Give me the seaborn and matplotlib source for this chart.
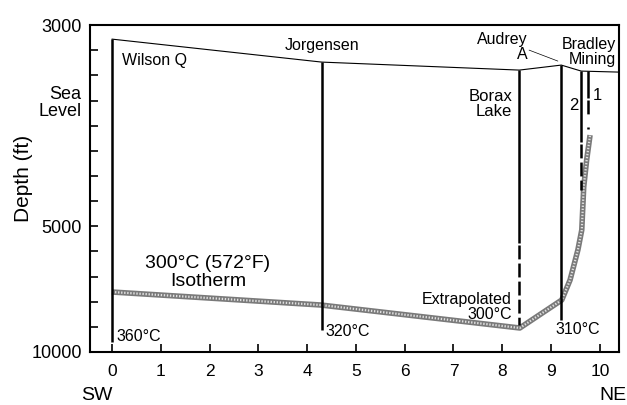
import matplotlib
matplotlib.use("Agg")
import matplotlib.pyplot as plt
import seaborn as sns
import pandas as pd

sns.set_style("ticks")
plt.rcParams['font.family'] = ['Liberation Sans', 'DejaVu Sans']
plt.rcParams['lines.scale_dashes'] = False
plt.rcParams['text.color'] = 'black'
plt.rcParams['axes.labelcolor'] = 'black'
plt.rcParams['xtick.color'] = 'black'
plt.rcParams['ytick.color'] = 'black'

# ---- data ----
x_ticks = list(range(0, 11))
y_tick_vals = list(range(3000, -10001, -1000))
y_tick_labels = {3000: "3000", 0: "Sea\nLevel", -5000: "5000", -10000: "10000"}

surface_x = [0.0, 4.3, 8.35, 9.21, 9.62, 10.39]
surface_y = [2443, 1529, 1211, 1410, 1171, 1131]

iso_x = [0.0, 4.28, 8.36, 9.22, 9.39, 9.55, 9.63, 9.67, 9.73, 9.80]
iso_y = [-7616, -8133, -9047, -7934, -7139, -5946, -5151, -3441, -2368, -1374]

well_names = ["Wilson Q", "Jorgensen", "Borax Lake", "Audrey A", "Bradley 2", "Bradley 1"]
well_x = [0.0, 4.3, 8.35, 9.21, 9.62, 9.75]
well_top = [2443, 1529, 1211, 1410, 1171, 1160]
well_solid_bottom = [-9604, -9127, -5668, -8730, -1652, 98]
well_dash_bottom = [None, None, -8928, None, -3560, -578]

# ---- figure ----
fig = plt.figure(figsize=(6.27, 4.05), dpi=100)
ax = fig.add_axes([0.1435, 0.131, 0.8435, 0.807])

surf = pd.DataFrame({"x": surface_x, "y": surface_y})
sns.lineplot(data=surf, x="x", y="y", sort=False, color="black", lw=0.8, ax=ax)

iso = pd.DataFrame({"x": iso_x, "y": iso_y})
sns.lineplot(data=iso, x="x", y="y", sort=False, color="#7a7a7a", lw=4.0, ax=ax,
             solid_capstyle="butt", solid_joinstyle="round")
sns.lineplot(data=iso, x="x", y="y", sort=False, color="#e0e0e0", lw=1.6, ax=ax,
             linestyle=(0, (1, 1.2)))

for name, x, top, sb, db in zip(well_names, well_x, well_top, well_solid_bottom, well_dash_bottom):
    ax.plot([x, x], [top, sb], color="black", lw=1.8, solid_capstyle="butt")
    if db is not None:
        ax.plot([x, x], [sb - 80, db], color="black", lw=1.8,
                linestyle=(0, (10, 3)), dash_capstyle="butt")
# Bradley 1 dot
ax.plot([9.75, 9.75], [-1050, -1150], color="black", lw=1.8, solid_capstyle="butt")

# Audrey A leader line
ax.plot([8.55, 9.14], [2006, 1569], color="black", lw=0.5)

# ---- texts ----
fs = 11.5
ax.text(0.2, 1608, "Wilson Q", ha="left", va="center", fontsize=fs)
ax.text(4.3, 2205, "Jorgensen", ha="center", va="center", fontsize=fs)
ax.text(8.52, 2125, "Audrey\nA", ha="right", va="center", fontsize=fs, multialignment="right", linespacing=1.0)
ax.text(9.77, 1926, "Bradley\nMining", ha="center", va="center", fontsize=fs, multialignment="right", linespacing=1.0)
ax.text(8.2, -141, "Borax\nLake", ha="right", va="center", fontsize=12, multialignment="right", linespacing=1.0)
ax.text(9.47, -181, "2", ha="center", va="center", fontsize=12)
ax.text(9.94, 217, "1", ha="center", va="center", fontsize=12)
ax.text(1.97, -6840, "300°C (572°F)\nIsotherm", ha="center", va="center", fontsize=14, linespacing=1.05)
ax.text(0.1, -9405, "360°C", ha="left", va="center", fontsize=fs)
ax.text(4.38, -9206, "320°C", ha="left", va="center", fontsize=fs)
ax.text(8.2, -8212, "Extrapolated\n300°C", ha="right", va="center", fontsize=fs, multialignment="right", linespacing=1.0)
ax.text(9.55, -9127, "310°C", ha="center", va="center", fontsize=fs)

fig.text(97 / 627, 1 - 395 / 405, "SW", ha="center", va="center", fontsize=14)
fig.text(613 / 627, 1 - 395 / 405, "NE", ha="center", va="center", fontsize=14)

# ---- axes ----
ax.set_xlim(-0.45, 10.39)
ax.set_ylim(-10000, 3000)
ax.set_xticks(x_ticks)
ax.set_xticklabels([str(t) for t in x_ticks], fontsize=12.5)
ax.set_yticks(y_tick_vals)
ax.set_yticklabels([y_tick_labels.get(v, "") for v in y_tick_vals], fontsize=13, linespacing=1.0)
ax.tick_params(axis="both", direction="in", length=6, width=1.2, color="black")
ax.tick_params(axis="x", pad=9)
ax.tick_params(axis="y", pad=6)
ax.set_xlabel("")
ax.set_ylabel("Depth (ft)", fontsize=15)
ax.yaxis.set_label_coords((33 - 90) / 529, (352 - 178) / 327)
for s in ax.spines.values():
    s.set_linewidth(1.5)
    s.set_color("black")

fig.savefig("out.png", dpi=100)
